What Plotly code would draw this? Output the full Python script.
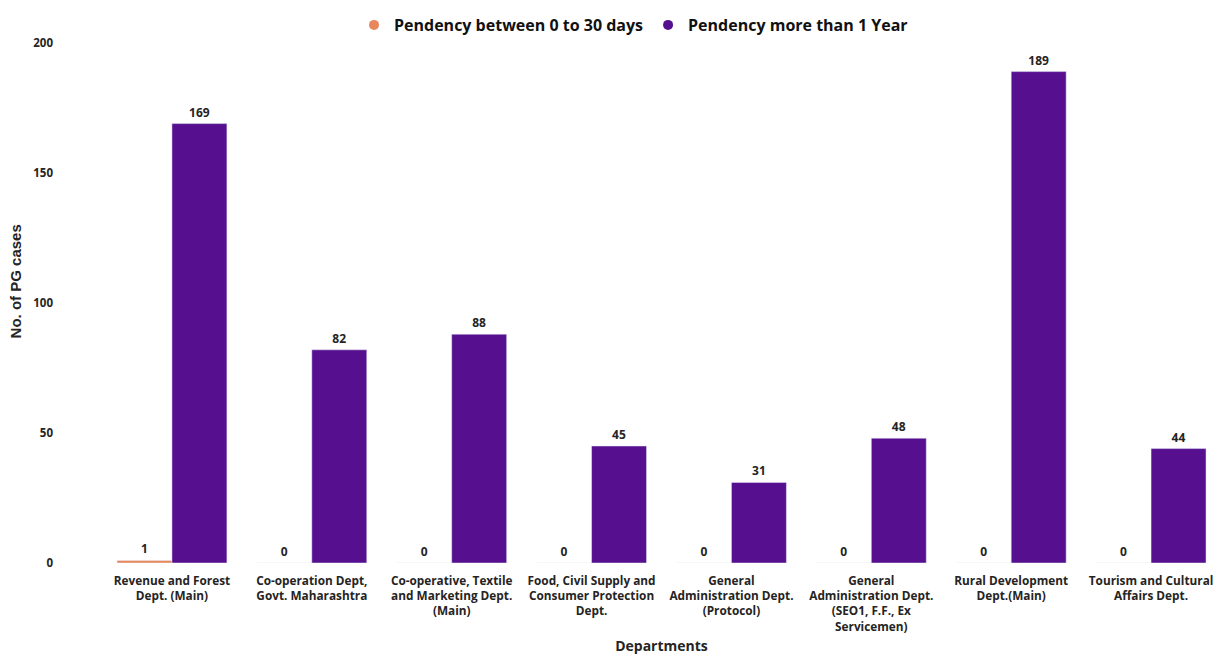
import plotly.graph_objects as go

departments = [
    "Revenue and Forest<br>Dept. (Main)",
    "Co-operation Dept,<br>Govt. Maharashtra",
    "Co-operative, Textile<br>and Marketing Dept.<br>(Main)",
    "Food, Civil Supply and<br>Consumer Protection<br>Dept.",
    "General<br>Administration Dept.<br>(Protocol)",
    "General<br>Administration Dept.<br>(SEO1, F.F., Ex<br>Servicemen)",
    "Rural Development<br>Dept.(Main)",
    "Tourism and Cultural<br>Affairs Dept.",
]
pend_0_30 = [1, 0, 0, 0, 0, 0, 0, 0]
pend_1yr = [169, 82, 88, 45, 31, 48, 189, 44]
y_ticks = [0, 50, 100, 150, 200]

ORANGE = "#E8875B"
PURPLE = "#560F8F"
TXT = "#252423"
FONT = "Open Sans"

fig = go.Figure()
fig.add_trace(go.Bar(
    x=departments, y=pend_0_30, name="Pendency between 0 to 30 days",
    marker_color=ORANGE, text=pend_0_30, textposition="outside",
    textfont=dict(family=FONT, size=12, color=TXT, weight="bold"),
    cliponaxis=False, showlegend=False,
))
fig.add_trace(go.Bar(
    x=departments, y=pend_1yr, name="Pendency more than 1 Year",
    marker_color=PURPLE, text=pend_1yr, textposition="outside",
    textfont=dict(family=FONT, size=12, color=TXT, weight="bold"),
    cliponaxis=False, showlegend=False,
))
# legend entries with circle markers
for nm, col in [("Pendency between 0 to 30 days", ORANGE), ("Pendency more than 1 Year", PURPLE)]:
    fig.add_trace(go.Scatter(
        x=[None], y=[None], mode="markers", name=nm,
        marker=dict(symbol="circle", size=10, color=col),
    ))

fig.update_layout(
    width=1213, height=649,
    paper_bgcolor="white", plot_bgcolor="white",
    margin=dict(l=94, r=0, t=35, b=94, autoexpand=False),
    barmode="group", bargap=0.214, bargroupgap=0,
    font=dict(family=FONT, color=TXT),
    legend=dict(
        orientation="h", x=0.475, xanchor="center", y=1.0, yanchor="top",
        yref="container",
        font=dict(family=FONT, size=16, color="#111111", weight="bold"),
        itemwidth=30, tracegroupgap=0,
    ),
    xaxis=dict(
        showgrid=False, showline=False, ticks="",
        tickfont=dict(family=FONT, size=11.8, color=TXT, weight="bold"),
        tickangle=0, ticklabelstandoff=9,
        title=dict(text="Departments", font=dict(family=FONT, size=14, color=TXT, weight="bold"), standoff=8),
    ),
    yaxis=dict(
        range=[0, 200], tickvals=y_ticks, showgrid=False, zeroline=False, showline=False,
        tickfont=dict(family=FONT, size=11.5, color=TXT, weight="bold"),
        ticklabelstandoff=48,
    ),
    annotations=[dict(
        text="No. of PG cases", textangle=-90, showarrow=False,
        xref="paper", yref="paper", x=-0.0775, y=0.542, xanchor="center", yanchor="middle",
        font=dict(family="Liberation Sans", size=15, color=TXT, weight="bold"),
    )],
)

fig.write_html("out.html")
